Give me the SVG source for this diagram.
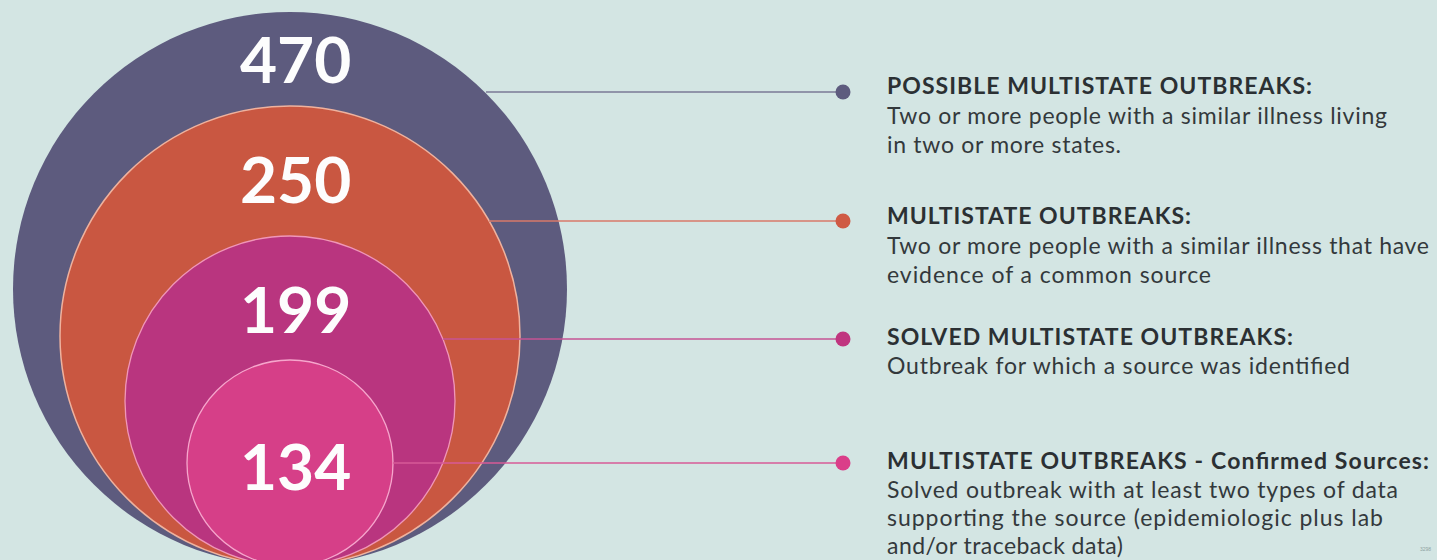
<svg xmlns="http://www.w3.org/2000/svg" width="1437" height="560" viewBox="0 0 1437 560">
  <style>
    .num { font-family: Lato, "Open Sans", "Liberation Sans", sans-serif; font-weight: 700; font-size: 64px; fill: #fdfdfd; }
    .head { font-family: Lato, "Open Sans", "Liberation Sans", sans-serif; font-weight: 700; font-size: 23px; fill: #2b3033; }
    .body { font-family: Lato, "Open Sans", "Liberation Sans", sans-serif; font-weight: 400; font-size: 23px; fill: #33393c; }
    .conn { stroke-width: 1.6; fill: none; }
  </style>
  <rect width="1437" height="560" fill="#d3e5e3"/>

  <!-- nested bubbles, all touching at the bottom -->
  <g id="possible">
    <circle cx="290" cy="289" r="277" fill="#5d5b7e"/>
    <text class="num" x="240" y="83">470</text>
  </g>
  <g id="multistate">
    <circle cx="290" cy="336" r="230" fill="#c95741" stroke="#efb29e" stroke-width="1.5"/>
    <text class="num" x="240" y="203">250</text>
  </g>
  <g id="solved">
    <circle cx="290" cy="401" r="165" fill="#b9357f" stroke="#f096b8" stroke-width="1.3"/>
    <text class="num" x="240" y="333">199</text>
  </g>
  <g id="confirmed">
    <circle cx="290" cy="463" r="103" fill="#d63f88" stroke="#f6a6cc" stroke-width="1.3"/>
    <text class="num" x="240" y="490">134</text>
  </g>

  <!-- leader lines from each bubble to its legend dot -->
  <g id="connectors">
    <line class="conn" x1="486" y1="92" x2="843" y2="92" stroke="#7a7996"/>
    <line class="conn" x1="489" y1="221" x2="843" y2="221" stroke="#d9786a"/>
    <line class="conn" x1="443" y1="339" x2="843" y2="339" stroke="#c65394"/>
    <line class="conn" x1="393" y1="463" x2="843" y2="463" stroke="#d75a97"/>
  </g>

  <!-- legend entries -->
  <g id="legend-possible">
    <circle cx="843" cy="92" r="7.5" fill="#5d5b7e"/>
    <text class="head" x="887" y="94" textLength="425">POSSIBLE MULTISTATE OUTBREAKS:</text>
    <text class="body" x="887" y="124" textLength="500">Two or more people with a similar illness living</text>
    <text class="body" x="887" y="153" textLength="234">in two or more states.</text>
  </g>
  <g id="legend-multistate">
    <circle cx="843" cy="221" r="7.5" fill="#cf5a44"/>
    <text class="head" x="887" y="224" textLength="304">MULTISTATE OUTBREAKS:</text>
    <text class="body" x="887" y="254" textLength="542">Two or more people with a similar illness that have</text>
    <text class="body" x="887" y="283" textLength="324">evidence of a common source</text>
  </g>
  <g id="legend-solved">
    <circle cx="843" cy="339" r="7.5" fill="#c0357f"/>
    <text class="head" x="887" y="345" textLength="406">SOLVED MULTISTATE OUTBREAKS:</text>
    <text class="body" x="887" y="374" textLength="463">Outbreak for which a source was identified</text>
  </g>
  <g id="legend-confirmed">
    <circle cx="843" cy="463" r="7.5" fill="#da3e89"/>
    <text class="head" x="887" y="469" textLength="542">MULTISTATE OUTBREAKS - Confirmed Sources:</text>
    <text class="body" x="887" y="498" textLength="511">Solved outbreak with at least two types of data</text>
    <text class="body" x="887" y="526" textLength="496">supporting the source (epidemiologic plus lab</text>
    <text class="body" x="887" y="554" textLength="236">and/or traceback data)</text>
  </g>

  <text x="1420" y="551" font-family="'Liberation Sans', sans-serif" font-size="5" fill="#8fa3a2">3298</text>
</svg>
